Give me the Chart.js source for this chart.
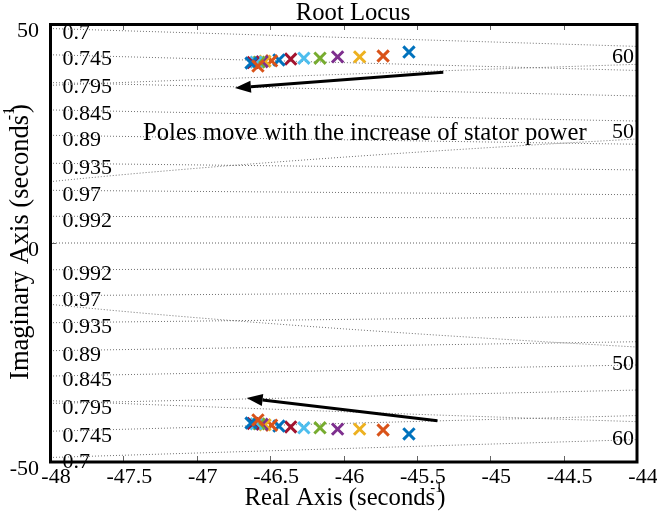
<!DOCTYPE html>
<html><head><meta charset="utf-8">
<script src="https://cdn.jsdelivr.net/npm/chart.js@4.4.1/dist/chart.umd.min.js"></script>
<style>html,body{margin:0;padding:0;background:#fff;overflow:hidden}</style>
</head><body>
<canvas id="c" width="657" height="523"></canvas>
<script>
// ---- data ----
const poleRe = [-45.554, -45.73, -45.89, -46.04, -46.16, -46.27, -46.36, -46.44, -46.49, -46.535, -46.555, -46.576, -46.596, -46.617, -46.63, -46.583];
const poleIm = [43.6, 42.7, 42.5, 42.5, 42.2, 42.2, 42.0, 41.8, 41.6, 41.5, 41.4, 41.3, 41.3, 41.2, 41.1, 40.4];
const colorCycle = ['#0072BD', '#D95319', '#EDB120', '#7E2F8E', '#77AC30', '#4DBEEE', '#A2142F'];
const dampingRatios = [0.7, 0.745, 0.795, 0.845, 0.89, 0.935, 0.97, 0.992];
const naturalFreqs = [50, 60];
const xRange = [-48, -44];
const yRange = [-50, 50];
const yTickValues = [-50, 0, 50];
const annotationText = 'Poles move with the increase of stator power';
const arrowUpper = [[-45.32, 39.0], [-46.74, 35.4]];
const arrowLower = [[-45.36, -40.6], [-46.66, -35.4]];

const FONT = '"Liberation Serif", "Times New Roman", serif';
const BIG = '24.7px ' + FONT;
Chart.defaults.font.family = FONT;

// grid (sgrid) construction
const gridSets = [];
const gridStyle = {type: 'line', showLine: true, pointRadius: 0, borderColor: '#707070', borderWidth: 1, borderDash: [1, 2], fill: false, tension: 0, order: 10};
dampingRatios.forEach(z => {
  const s = Math.sqrt(1 - z * z) / z;
  [1, -1].forEach(sg => gridSets.push(Object.assign({}, gridStyle, {
    data: [{x: xRange[0], y: -sg * xRange[0] * s}, {x: xRange[1], y: -sg * xRange[1] * s}]
  })));
});
naturalFreqs.forEach(w => {
  [1, -1].forEach(sg => {
    const pts = [];
    for (let i = 0; i <= 80; i++) {
      const xv = xRange[0] + (xRange[1] - xRange[0]) * i / 80;
      pts.push({x: xv, y: sg * Math.sqrt(w * w - xv * xv)});
    }
    gridSets.push(Object.assign({}, gridStyle, {data: pts}));
  });
});
gridSets.push(Object.assign({}, gridStyle, {borderColor: '#606060', data: [{x: xRange[0], y: 0}, {x: xRange[1], y: 0}]}));

const polePts = [], poleCols = [];
[1, -1].forEach(sg => poleRe.forEach((r, i) => { polePts.push({x: r, y: sg * poleIm[i]}); poleCols.push(colorCycle[i % colorCycle.length]); }));

function drawSup(ctx, main, sup, x, y, rot, size) {
  const f = size + 'px ' + FONT;
  const k = size / 24.7;
  ctx.save();
  ctx.translate(x, y);
  if (rot) ctx.rotate(-Math.PI / 2);
  ctx.font = f;
  const wm = ctx.measureText(main).width;
  const wp = ctx.measureText(')').width;
  const total = wm + wp + 2;
  let sx = -total / 2;
  ctx.textAlign = 'left'; ctx.textBaseline = 'alphabetic'; ctx.fillStyle = '#000';
  ctx.fillText(main, sx, 0);
  ctx.font = (15 * k) + 'px ' + FONT;
  ctx.fillText(sup, sx + wm - 5 * k, -13 * k);
  ctx.font = f;
  ctx.fillText(')', sx + wm + 2, 0);
  ctx.restore();
}

function arrow(ctx, x, y, a) {
  const x0 = x.getPixelForValue(a[0][0]), y0 = y.getPixelForValue(a[0][1]);
  const x1 = x.getPixelForValue(a[1][0]), y1 = y.getPixelForValue(a[1][1]);
  const ang = Math.atan2(y1 - y0, x1 - x0);
  const L = 16, H = 6;
  const bx = x1 - L * Math.cos(ang), by = y1 - L * Math.sin(ang);
  ctx.strokeStyle = '#000'; ctx.fillStyle = '#000'; ctx.lineWidth = 3;
  ctx.beginPath(); ctx.moveTo(x0, y0); ctx.lineTo(bx, by); ctx.stroke();
  ctx.beginPath();
  ctx.moveTo(x1, y1);
  ctx.lineTo(bx + H * Math.sin(ang), by - H * Math.cos(ang));
  ctx.lineTo(bx - H * Math.sin(ang), by + H * Math.cos(ang));
  ctx.closePath(); ctx.fill();
}

const annot = {
  id: 'annot',
  beforeDatasetsDraw(chart) {
    const {ctx, scales: {x, y}} = chart;
    ctx.save();
    ctx.font = '22px ' + FONT; ctx.fillStyle = '#000';
    dampingRatios.forEach(z => {
      const s = Math.sqrt(1 - z * z) / z;
      [1, -1].forEach(sg => {
        const py = y.getPixelForValue(-sg * xRange[0] * s);
        ctx.textAlign = 'left'; ctx.textBaseline = 'middle';
        ctx.fillText(String(z), x.getPixelForValue(-47.915), py + 4.5);
      });
    });
    naturalFreqs.forEach(w => {
      const yv = Math.sqrt(w * w - xRange[1] * xRange[1]);
      ctx.textAlign = 'right'; ctx.textBaseline = 'alphabetic';
      ctx.fillText(String(w), chart.chartArea.right - 3, y.getPixelForValue(yv) - 1);
      ctx.fillText(String(w), chart.chartArea.right - 3, y.getPixelForValue(-yv) + 23);
    });
    ctx.restore();
  },
  afterDatasetsDraw(chart) {
    const {ctx, chartArea: a, scales: {x, y}} = chart;
    ctx.save();
    ctx.font = BIG; ctx.fillStyle = '#000';
    ctx.textAlign = 'left'; ctx.textBaseline = 'alphabetic';
    ctx.fillText(annotationText, x.getPixelForValue(-47.366), y.getPixelForValue(23.5));
    arrow(ctx, x, y, arrowUpper);
    arrow(ctx, x, y, arrowLower);
    // ticks
    ctx.strokeStyle = '#666'; ctx.lineWidth = 1;
    for (let v = xRange[0]; v <= xRange[1] + 1e-9; v += 0.5) {
      const px = Math.round(x.getPixelForValue(v)) + 0.5;
      ctx.beginPath(); ctx.moveTo(px, a.bottom); ctx.lineTo(px, a.bottom - 6);
      ctx.moveTo(px, a.top); ctx.lineTo(px, a.top + 6); ctx.stroke();
    }
    yTickValues.forEach(v => {
      const py = Math.round(y.getPixelForValue(v)) + 0.5;
      ctx.beginPath(); ctx.moveTo(a.left, py); ctx.lineTo(a.left + 6, py);
      ctx.moveTo(a.right, py); ctx.lineTo(a.right - 6, py); ctx.stroke();
    });
    // frame
    ctx.strokeStyle = '#000'; ctx.lineWidth = 3;
    ctx.strokeRect(a.left + 0.5, a.top + 0.5, a.right - a.left - 0.5, a.bottom - a.top - 0.5);
    // titles
    ctx.font = BIG; ctx.textAlign = 'center';
    ctx.fillText('Root Locus', 353, 20);
    ctx.restore();
    drawSup(ctx, 'Real Axis (seconds', '-1', 345, 505, false, 24.7);
    drawSup(ctx, 'Imaginary Axis (seconds', '-1', 28, 242, true, 26.5);
  }
};

new Chart(document.getElementById('c'), {
  data: {
    datasets: [
      {type: 'scatter', data: polePts, pointStyle: 'crossRot', pointRadius: 8, pointBorderWidth: 3,
       pointBorderColor: poleCols, pointBackgroundColor: poleCols, order: 0},
      ...gridSets
    ]
  },
  options: {
    responsive: false, animation: false, devicePixelRatio: 1,
    layout: {padding: {top: 24, right: 20, left: 0, bottom: 0}},
    plugins: {legend: {display: false}, tooltip: {enabled: false}, title: {display: false}},
    scales: {
      x: {type: 'linear', min: xRange[0], max: xRange[1],
          grid: {display: false}, border: {display: false},
          ticks: {stepSize: 0.5, color: '#000', font: {size: 22, family: FONT}, padding: -6, labelOffset: 6, maxRotation: 0,
                  autoSkip: false, callback: v => String(v)},
          afterFit: s => { s.height = 61; }},
      y: {type: 'linear', min: yRange[0], max: yRange[1],
          grid: {display: false}, border: {display: false},
          afterBuildTicks: s => { s.ticks = yTickValues.map(v => ({value: v})); },
          ticks: {color: '#000', font: {size: 22, family: FONT}, padding: 3, labelOffset: 7.5, callback: v => String(v)},
          afterFit: s => { s.width = 50; }}
    }
  },
  plugins: [annot]
});
</script>
</body></html>
